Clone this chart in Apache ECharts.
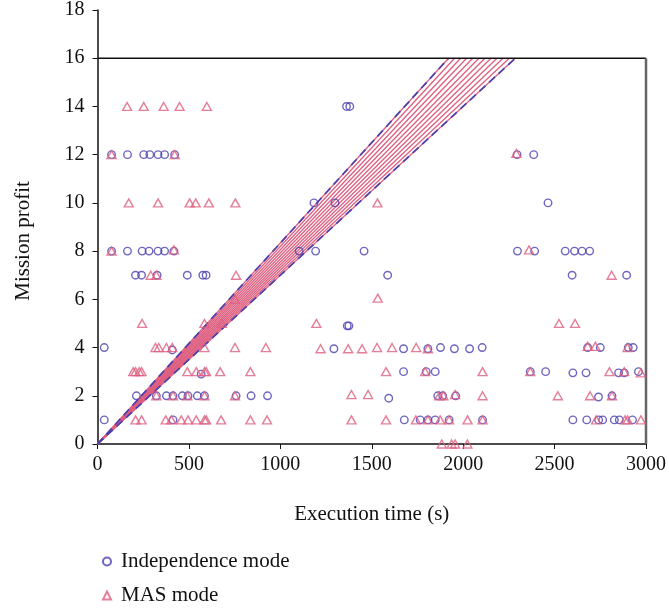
<!DOCTYPE html>
<html>
<head>
<meta charset="utf-8">
<script src="https://cdn.jsdelivr.net/npm/echarts@6/dist/echarts.min.js"></script>
<style>
  html, body { margin: 0; padding: 0; background: #fff; }
  #chart { width: 669px; height: 611px; }
</style>
</head>
<body>
<div id="chart"></div>
<script>
// axis ticks
const xTicks = [0, 500, 1000, 1500, 2000, 2500, 3000]
const yTicks = [0, 2, 4, 6, 8, 10, 12, 14, 16, 18]

// fan of reference lines: each runs from the origin to (end, 16)
const fanEnds = [1920, 1953, 1986, 2019, 2052, 2086, 2119, 2152, 2185, 2218, 2252, 2285]
const fanTop = 16

// frame drawn at profit 16 and time 3000
const frameTop = [[0, 16], [3000, 16]]
const frameRight = [[3000, 16], [3000, 0]]

// Independence mode [time, profit]
const indepPoints = [
  [1362, 14], [1380, 14],
  [77, 12], [164, 12], [253, 12], [286, 12], [331, 12], [367, 12], [422, 12], [2295, 12], [2386, 12],
  [1184, 10], [1299, 10], [2464, 10],
  [77, 8], [164, 8], [244, 8], [282, 8], [331, 8], [367, 8], [418, 8], [1103, 8], [1193, 8], [1458, 8],
  [2297, 8], [2391, 8], [2558, 8], [2609, 8], [2650, 8], [2692, 8],
  [208, 7], [241, 7], [326, 7], [491, 7], [576, 7], [594, 7], [1587, 7], [2596, 7], [2894, 7],
  [1366, 4.9], [1375, 4.9],
  [37, 4], [409, 3.9], [1293, 3.95], [1674, 3.95], [1807, 3.95], [1876, 4], [1952, 3.95], [2035, 3.95],
  [2104, 4], [2681, 4], [2750, 4], [2903, 4], [2930, 4],
  [567, 2.9], [1674, 3], [1798, 3], [1847, 3], [2367, 3], [2451, 3], [2600, 2.95], [2672, 2.95],
  [2850, 2.95], [2881, 2.95], [2959, 3],
  [213, 2], [322, 2], [377, 2], [413, 2], [464, 2], [495, 2], [546, 2], [585, 2], [758, 2], [840, 2], [930, 2],
  [1593, 1.9], [1861, 2], [1888, 2], [1959, 2], [2740, 1.95], [2814, 2],
  [37, 1], [413, 1], [1678, 1], [1765, 1], [1807, 1], [1847, 1], [1923, 1],
  [2106, 1], [2600, 1], [2676, 1], [2741, 1], [2763, 1], [2827, 1], [2854, 1], [2926, 1]
]

// MAS mode [time, profit]
const masPoints = [
  [162, 14], [253, 14], [362, 14], [449, 14], [598, 14],
  [77, 12], [422, 12], [2291, 12.05],
  [171, 10], [331, 10], [504, 10], [537, 10], [609, 10], [754, 10], [1531, 10],
  [77, 8], [418, 8.05], [2360, 8.05],
  [291, 7], [322, 7], [758, 7], [2812, 7],
  [752, 6], [1533, 6.05],
  [244, 5], [585, 5], [680, 5], [1197, 5], [2524, 5], [2612, 5],
  [317, 4], [335, 4], [377, 4], [409, 4], [585, 4], [752, 4], [921, 4],
  [1220, 3.95], [1371, 3.95], [1447, 3.95], [1529, 4], [1611, 4], [1743, 4], [1807, 3.95],
  [2681, 4.05], [2723, 4.05], [2899, 4],
  [195, 3], [208, 3], [228, 3], [241, 3], [491, 3], [540, 3], [585, 3], [594, 3], [671, 3], [836, 3],
  [1578, 3], [1792, 3], [2106, 3], [2367, 3], [2800, 3], [2881, 3], [2972, 2.95],
  [322, 2], [413, 2], [491, 2], [585, 2], [752, 2],
  [1389, 2.05], [1480, 2.05], [1869, 2], [1892, 2], [1956, 2.05], [2106, 2], [2518, 2], [2694, 2], [2814, 2],
  [208, 1], [241, 1], [373, 1], [404, 1], [458, 1], [495, 1], [540, 1], [585, 1], [594, 1], [676, 1],
  [836, 1], [927, 1], [1389, 1], [1578, 1], [1741, 1], [1807, 1], [1874, 1], [1923, 1], [2024, 1],
  [2106, 1], [2727, 1], [2885, 1], [2899, 1], [2972, 1],
  [1883, 0], [1937, 0], [1956, 0], [2023, 0]
]

const blue = '#4a3fae'
const pink = '#de5f80'
const font = 'Liberation Serif'

const chart = echarts.init(document.getElementById('chart'))

// fan lines (pink solid), outer two also get blue dashes on top
const fanSeries = fanEnds.map(end => ({
  type: 'line',
  data: [[0, 0], [end, fanTop]],
  symbol: 'none',
  silent: true,
  lineStyle: { color: pink, width: 1.3 },
  z: 1
}))
const edgeSeries = [fanEnds[0], fanEnds[fanEnds.length - 1]].map(end => ({
  type: 'line',
  data: [[0, 0], [end, fanTop]],
  symbol: 'none',
  silent: true,
  lineStyle: { color: blue, width: 1.7, type: [8, 5] },
  z: 2
}))

// one legend per row so they stack
const legendBase = {
  left: 97,
  itemWidth: 8,
  itemHeight: 8,
  textStyle: { fontFamily: font, fontSize: 21, color: '#111', padding: [0, 0, 0, 5] }
}

chart.setOption({
  animation: false,
  textStyle: { fontFamily: font },
  grid: { left: 97.5, right: 20.5, top: 7.5, bottom: 167 },
  legend: [
    { ...legendBase, data: ['Independence mode'], top: 546 },
    { ...legendBase, data: ['MAS mode'], top: 580 }
  ],
  xAxis: {
    type: 'value',
    min: xTicks[0],
    max: xTicks[xTicks.length - 1],
    interval: 500,
    name: 'Execution time (s)',
    nameLocation: 'middle',
    nameGap: 60,
    nameTextStyle: { fontFamily: font, fontSize: 21, color: '#111' },
    axisLine: { lineStyle: { color: '#111', width: 1.5 } },
    axisTick: { length: 5, lineStyle: { color: '#111' } },
    axisLabel: { fontFamily: font, fontSize: 20, color: '#111', margin: 11, formatter: v => String(v) },
    splitLine: { show: false }
  },
  yAxis: {
    type: 'value',
    min: yTicks[0],
    max: yTicks[yTicks.length - 1],
    interval: 2,
    name: 'Mission profit',
    nameLocation: 'middle',
    nameGap: 64,
    nameTextStyle: { fontFamily: font, fontSize: 21, color: '#111', padding: [0, 28, 0, 0] },
    axisLine: { show: true, lineStyle: { color: '#111', width: 1.5 } },
    axisTick: { show: true, length: 5, lineStyle: { color: '#111' } },
    axisLabel: { fontFamily: font, fontSize: 20, color: '#111', margin: 13 },
    splitLine: { show: false }
  },
  series: [
    ...fanSeries,
    ...edgeSeries,
    {
      type: 'line',
      data: frameTop,
      symbol: 'none',
      silent: true,
      lineStyle: { color: '#111', width: 1.5 },
      z: 3
    },
    {
      type: 'line',
      data: frameRight,
      symbol: 'none',
      silent: true,
      lineStyle: { color: '#666', width: 2.5 },
      z: 3
    },
    {
      name: 'Independence mode',
      type: 'scatter',
      data: indepPoints,
      symbol: 'circle',
      symbolSize: 7.5,
      clip: false,
      itemStyle: { color: 'rgba(0,0,0,0)', borderColor: blue, borderWidth: 1.4 },
      z: 5
    },
    {
      name: 'MAS mode',
      type: 'scatter',
      data: masPoints,
      symbol: 'triangle',
      symbolSize: [9, 8],
      clip: false,
      itemStyle: { color: 'rgba(0,0,0,0)', borderColor: pink, borderWidth: 1.4 },
      z: 6
    }
  ]
})
</script>
</body>
</html>
